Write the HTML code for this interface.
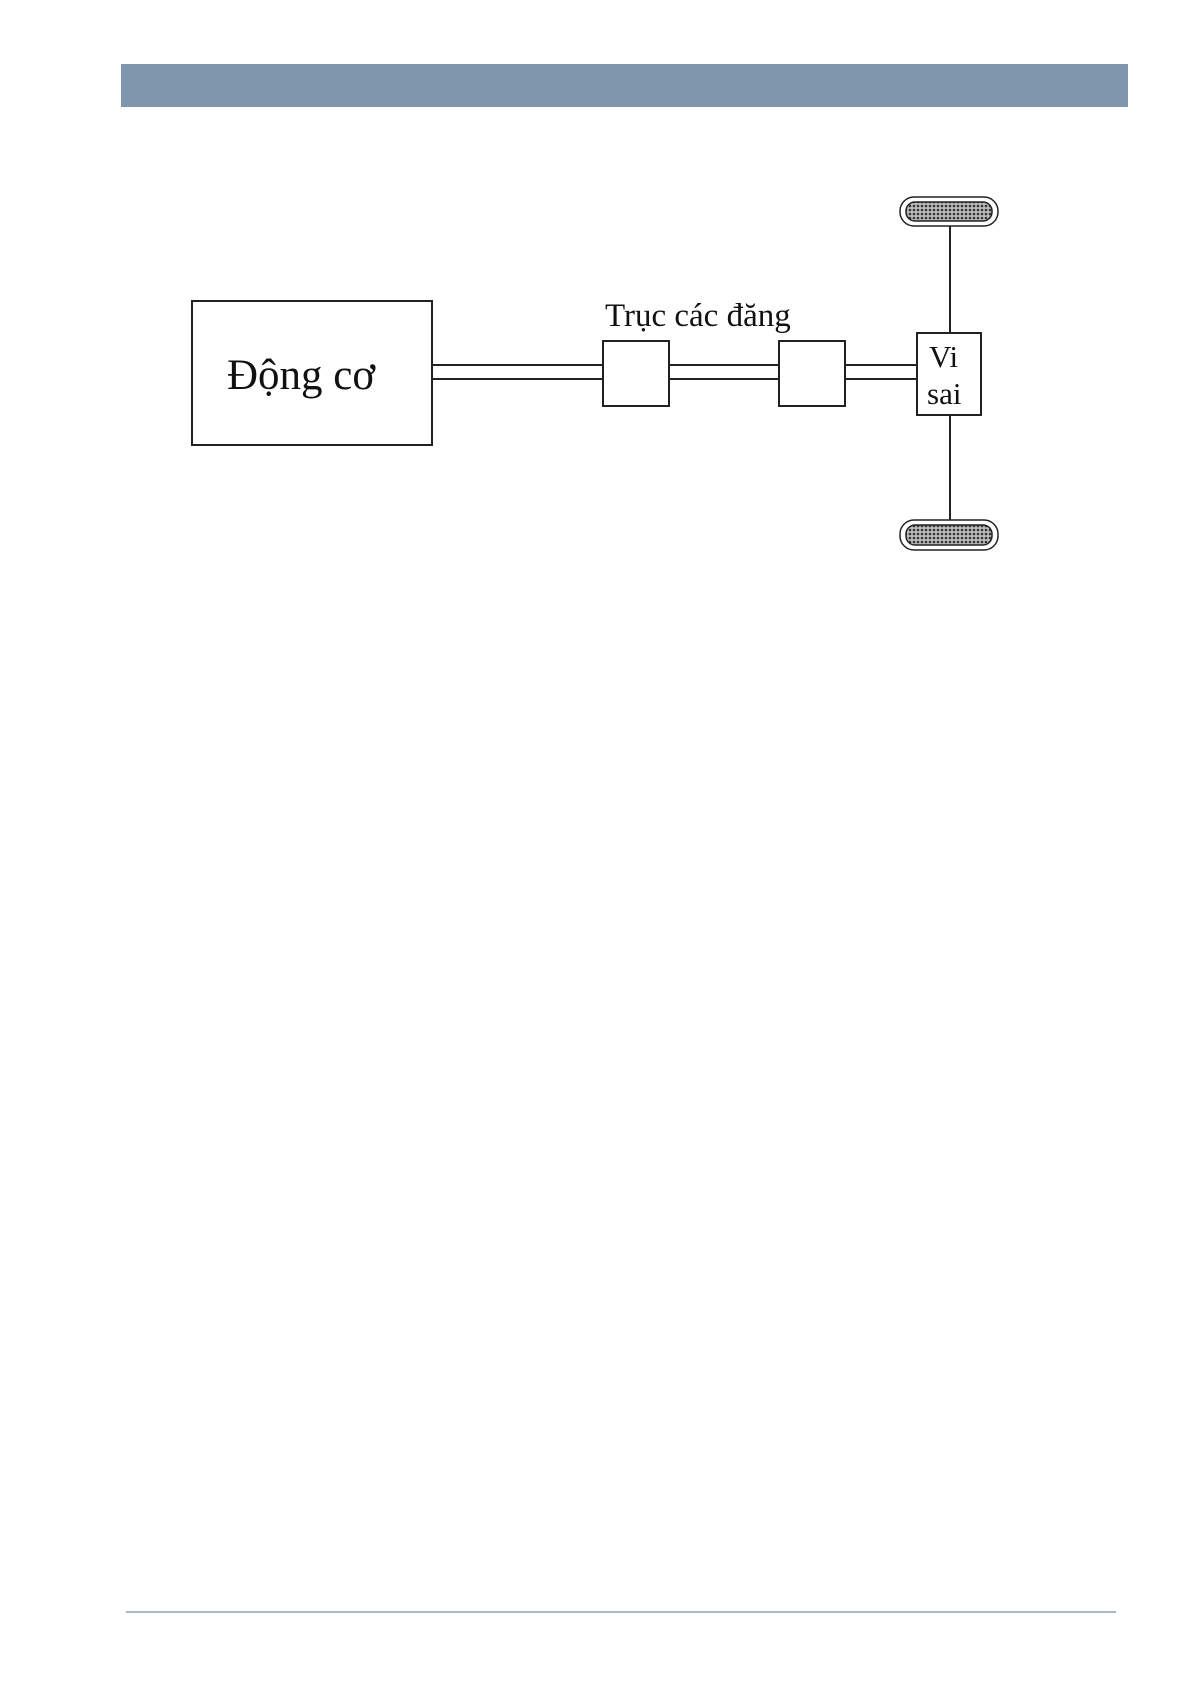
<!DOCTYPE html>
<html><head><meta charset="utf-8"><style>
html,body{margin:0;padding:0;background:#fff;}
body{width:1192px;height:1685px;position:relative;overflow:hidden;}
</style></head><body>
<div style="position:absolute;left:121px;top:64px;width:1007px;height:43px;background:#8096ad;"></div>
<div style="position:absolute;left:126px;top:1611px;width:990px;height:2px;background:#a9b9c9;"></div>
<svg width="1192" height="1685" style="position:absolute;left:0;top:0" xmlns="http://www.w3.org/2000/svg">
<defs>
<pattern id="p" width="4" height="4" patternUnits="userSpaceOnUse">
<rect width="4" height="4" fill="#bbb"/><circle cx="2" cy="2" r="1.3" fill="#333"/>
</pattern>
</defs>
<g stroke="#222" stroke-width="2" fill="none">
<rect x="192" y="301" width="240" height="144"/>
<line x1="432" y1="365" x2="603" y2="365"/>
<line x1="432" y1="379" x2="603" y2="379"/>
<rect x="603" y="341" width="66" height="65" fill="#fff"/>
<line x1="669" y1="365" x2="779" y2="365"/>
<line x1="669" y1="379" x2="779" y2="379"/>
<rect x="779" y="341" width="66" height="65" fill="#fff"/>
<line x1="845" y1="365" x2="917" y2="365"/>
<line x1="845" y1="379" x2="917" y2="379"/>
<rect x="917" y="333" width="64" height="82" fill="#fff"/>
<line x1="950" y1="225" x2="950" y2="333"/>
<line x1="950" y1="415" x2="950" y2="520"/>
<rect x="900" y="197" width="98" height="29" rx="14" fill="#fff" stroke-width="1.5"/>
<rect x="906" y="202" width="86" height="19" rx="9" fill="url(#p)" stroke-width="1.5"/>
<rect x="900" y="520" width="98" height="30" rx="14" fill="#fff" stroke-width="1.5"/>
<rect x="906" y="525" width="86" height="20" rx="9" fill="url(#p)" stroke-width="1.5"/>
</g>
<g font-family="Liberation Serif, serif" fill="#111">
<text x="227" y="389" font-size="43">Động cơ</text>
<text x="605" y="326" font-size="33">Trục các đăng</text>
<text x="929" y="367" font-size="31">Vi</text>
<text x="927" y="404" font-size="31">sai</text>
</g>
</svg>
</body></html>
